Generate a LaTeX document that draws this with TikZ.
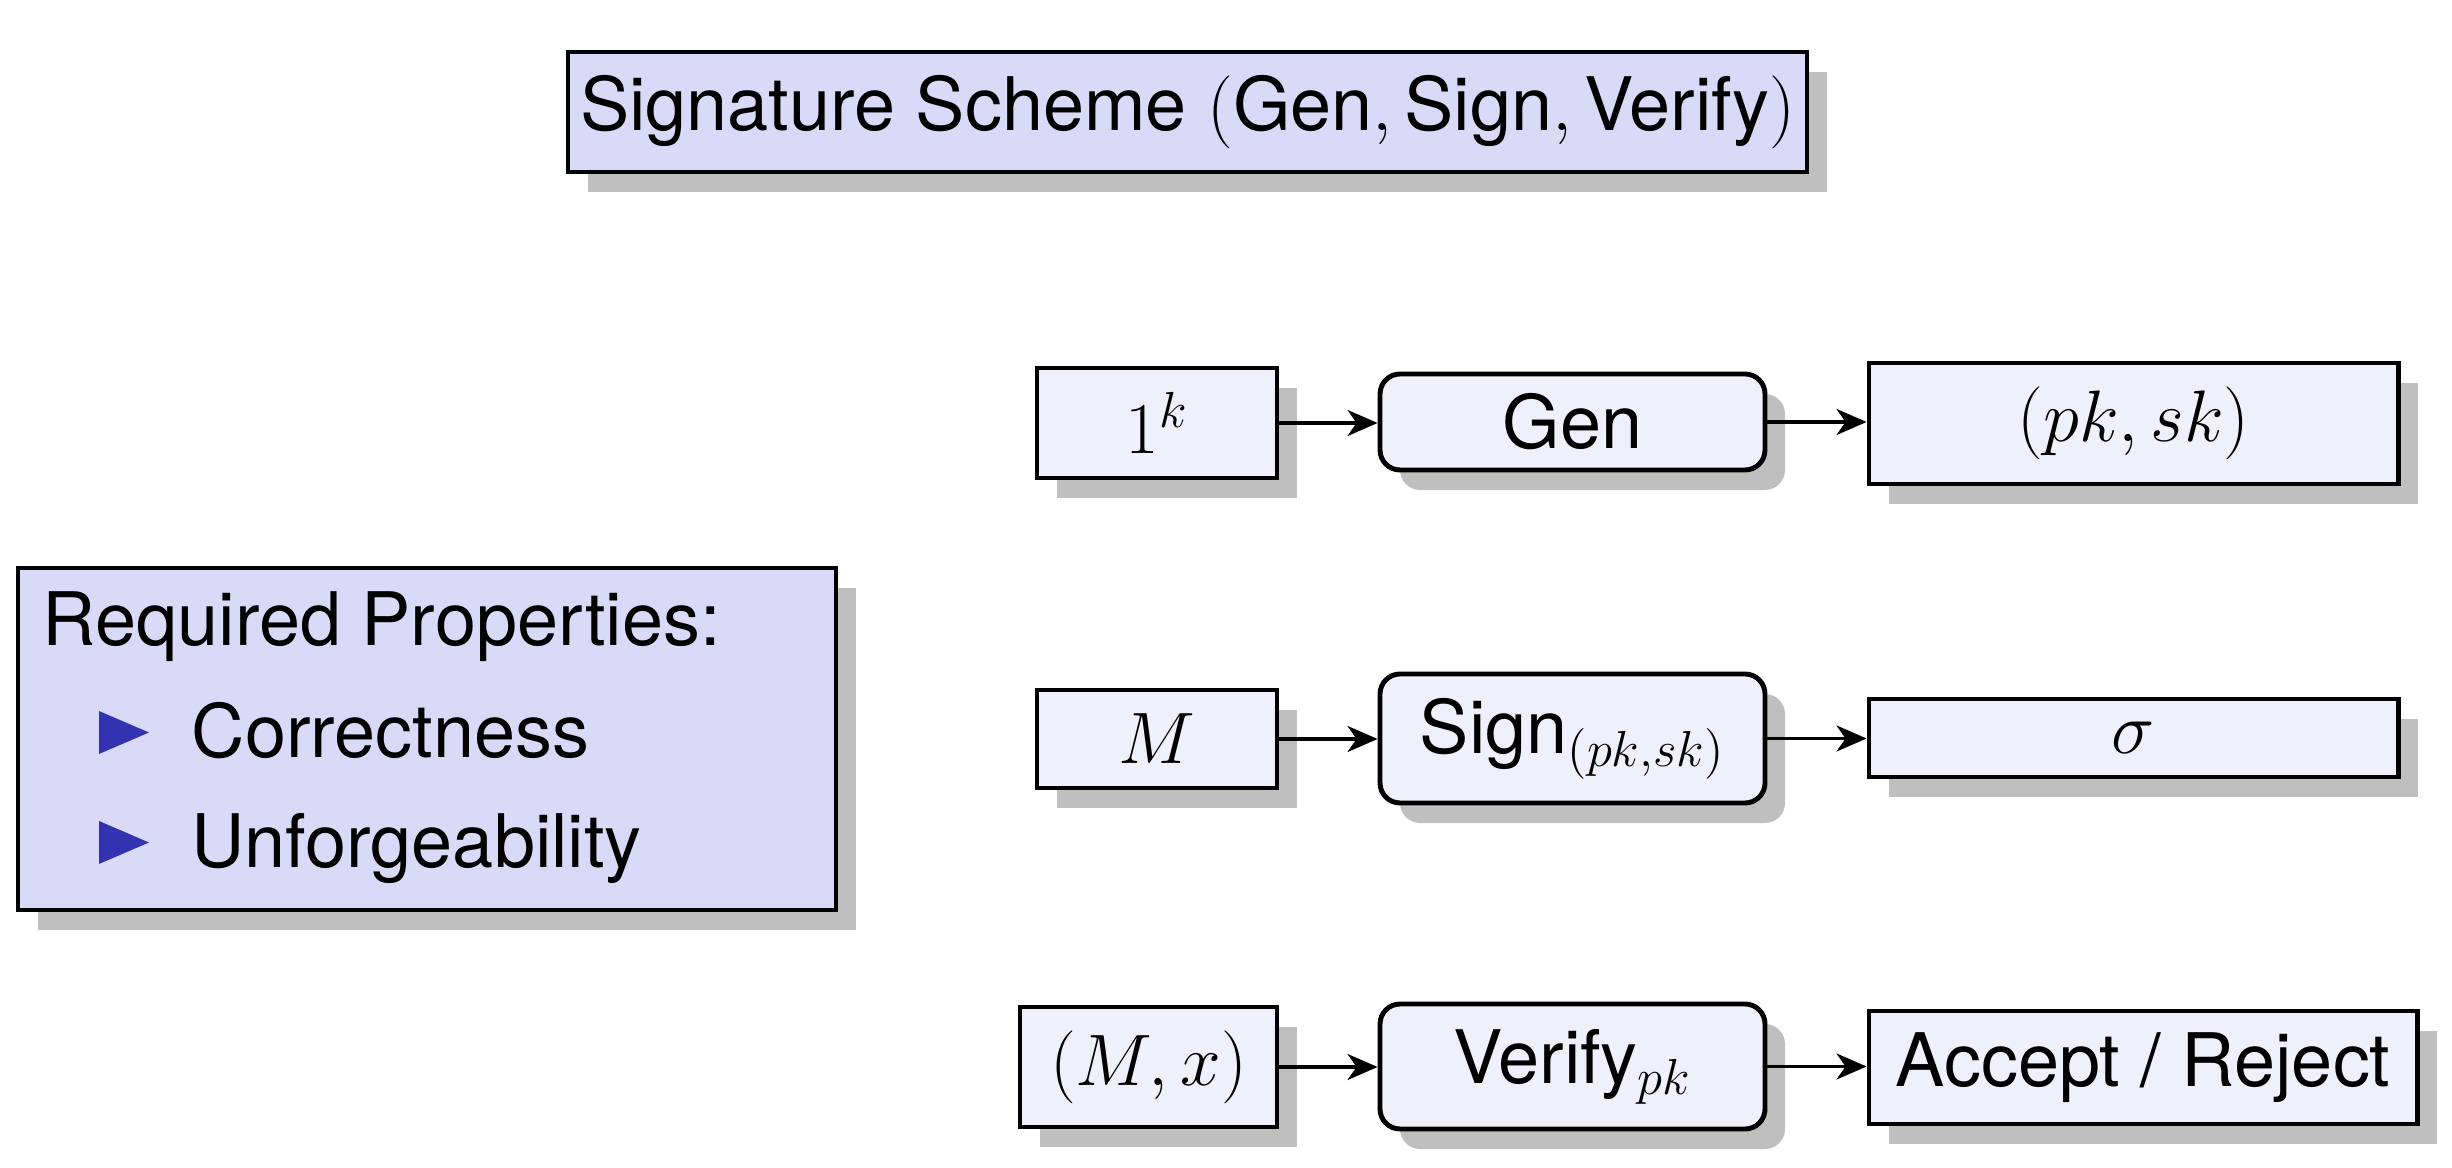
\documentclass[tikz,border=0pt]{standalone}
\usepackage{amsmath}
\usepackage[no-math]{fontspec}
\setmainfont{TeX Gyre Heros}
\usetikzlibrary{shadows,arrows.meta}
\definecolor{struct}{rgb}{0.2,0.2,0.7}
\definecolor{headfill}{RGB}{217,217,248}
\definecolor{rowfill}{RGB}{240,240,252}
\tikzset{
  shad/.style={drop shadow={shadow xshift=0.2cm,shadow yshift=-0.2cm,fill=black!25,opacity=1}},
  bigbox/.style={draw=black,line width=1.4pt,fill=headfill,shad,inner sep=0pt},
  iobox/.style={draw=black,line width=1.4pt,fill=rowfill,shad,inner sep=0pt,rectangle},
  algbox/.style={iobox,rounded corners=0.2cm},
  arr/.style={-{Stealth[length=0.3cm,width=0.26cm,inset=0.09cm]},line width=0.95pt},
  txt/.style={font=\fontsize{21}{25}\selectfont}
}
\begin{document}
\begin{tikzpicture}[x=0.01cm,y=-0.01cm,txt]
\useasboundingbox (0,0) rectangle (2452,1168);
% title
\node[bigbox,minimum width=1239*0.01cm,minimum height=120*0.01cm] (title) at (1187.5,112)
  {Signature Scheme $(\text{Gen}, \text{Sign}, \text{Verify})$};
% properties
\node[bigbox,minimum width=818*0.01cm,minimum height=342*0.01cm] (props) at (427,739) {};
\node[anchor=base west,inner sep=0pt] (ph) at (42,646) {Required Properties:};
\fill[struct] (99,711) -- (99,754) -- (149,732.5) -- cycle;
\node[anchor=base west,inner sep=0pt] (p1) at (191,758) {Correctness};
\fill[struct] (99,821) -- (99,864) -- (149,842.5) -- cycle;
\node[anchor=base west,inner sep=0pt] (p2) at (191,868) {Unforgeability};
% row 1
\node[iobox,minimum width=240*0.01cm,minimum height=110*0.01cm] (a1) at (1157,423) {$1^k$};
\node[algbox,minimum width=385*0.01cm,minimum height=96*0.01cm] (g1) at (1572.5,422) {Gen};
\node[iobox,minimum width=529*0.01cm,minimum height=121*0.01cm] (o1) at (2133.5,423.5) {$(pk,sk)$};
% row 2
\node[iobox,minimum width=240*0.01cm,minimum height=98*0.01cm] (a2) at (1157,739) {$M$};
\node[algbox,minimum width=385*0.01cm,minimum height=129*0.01cm] (g2) at (1572.5,738.5) {Sign$_{(pk,sk)}$};
\node[iobox,minimum width=529*0.01cm,minimum height=78*0.01cm] (o2) at (2133.5,738) {$\sigma$};
% row 3
\node[iobox,minimum width=257*0.01cm,minimum height=120*0.01cm] (a3) at (1148.5,1067) {$(M,x)$};
\node[algbox,minimum width=385*0.01cm,minimum height=125*0.01cm] (g3) at (1572.5,1066.5) {Verify$_{pk}$};
\node[iobox,minimum width=548*0.01cm,minimum height=113*0.01cm] (o3) at (2143,1067.5) {Accept / Reject};
% arrows
\draw[arr] (a1.east) -- (a1.east -| g1.west);
\draw[arr] (g1.east) -- (g1.east -| o1.west);
\draw[arr] (a2.east) -- (a2.east -| g2.west);
\draw[arr] (g2.east) -- (g2.east -| o2.west);
\draw[arr] (a3.east) -- (a3.east -| g3.west);
\draw[arr] (g3.east) -- (g3.east -| o3.west);
\end{tikzpicture}
\end{document}
